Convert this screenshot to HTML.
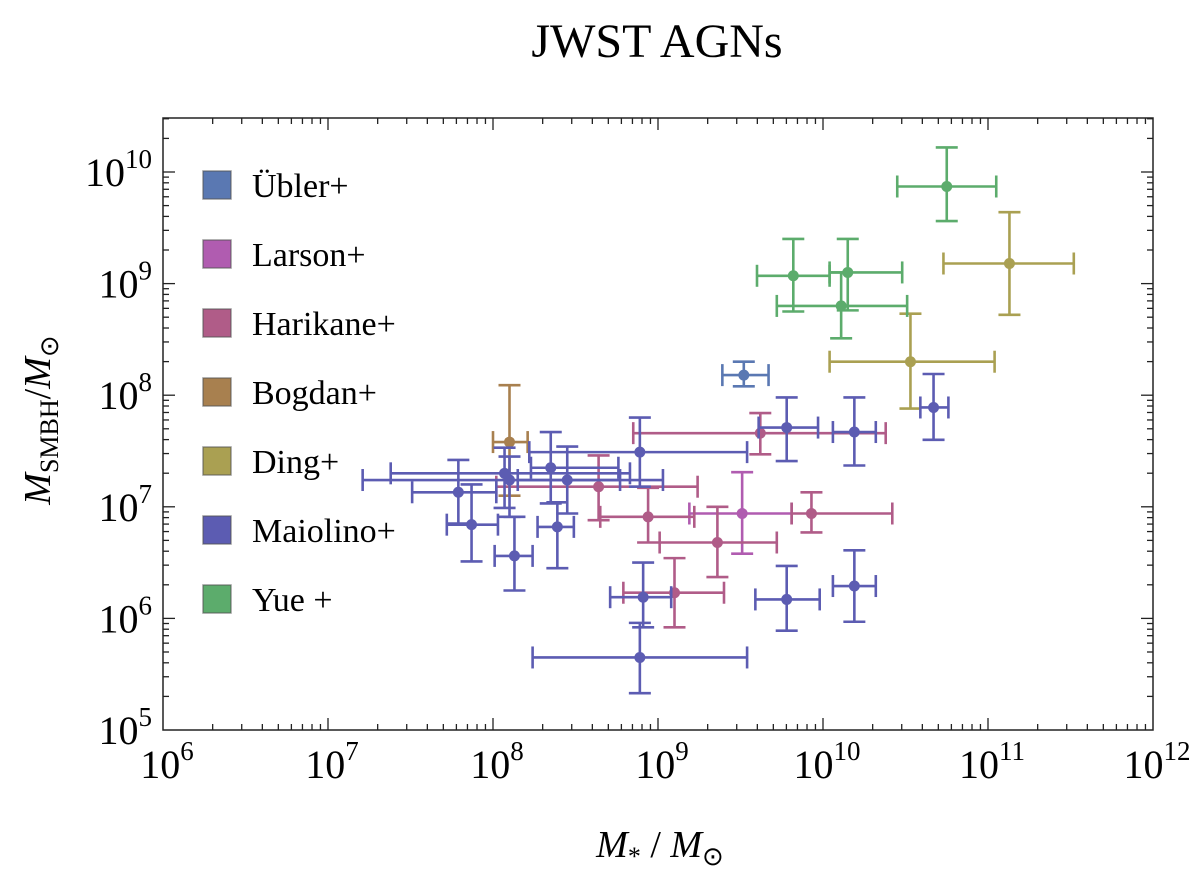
<!DOCTYPE html>
<html><head><meta charset="utf-8"><style>
body{margin:0;background:#fff;}
svg{display:block;font-family:"Liberation Serif",serif;}
</style></head><body>
<svg id="chart" width="1200" height="879">
<text x="657" y="57" font-size="48" text-anchor="middle">JWST AGNs</text>
<g id="axes"></g><g id="marks"></g><g id="legend"></g>
<text x="0" y="0" font-size="38" text-anchor="middle" transform="translate(50,420) rotate(-90)"><tspan font-style="italic">M</tspan><tspan font-size="26" dy="8">SMBH</tspan><tspan dy="-8">/</tspan><tspan font-style="italic">M</tspan><tspan font-size="26" dy="8">⊙</tspan></text>
<text x="660" y="857" font-size="38" text-anchor="middle"><tspan font-style="italic">M</tspan><tspan font-size="26" dy="8">*</tspan><tspan dy="-8"> / </tspan><tspan font-style="italic">M</tspan><tspan font-size="26" dy="8">⊙</tspan></text>
</svg>
<script>
// data in log10 units: [logMstar, lo, hi, logMBH, lo, hi]
const uebler=[[9.52,9.39,9.67,8.18,8.08,8.30]];
const larson=[[9.51,9.19,9.81,6.94,6.58,7.31]];
const harikane=[[9.62,8.85,10.38,7.66,7.47,7.84],[8.64,8.02,9.24,7.18,6.88,7.46],[8.94,8.65,9.22,6.91,6.68,7.17],[9.36,9.01,9.72,6.68,6.37,7.00],[9.93,9.81,10.42,6.94,6.77,7.13],[9.10,8.79,9.40,6.23,5.92,6.54]];
const bogdan=[[8.10,8.00,8.21,7.58,7.10,8.09]];
const ding=[[11.13,10.73,11.52,9.18,8.72,9.64],[10.53,10.04,11.04,8.30,7.88,8.73]];
const maiolino=[[9.78,9.61,9.97,7.71,7.41,7.98],[10.19,10.06,10.32,7.67,7.37,7.98],[8.89,8.22,9.54,7.49,7.18,7.80],[8.91,8.71,9.08,6.19,5.92,6.50],[8.89,8.24,9.54,5.65,5.33,5.96],[9.78,9.59,9.98,6.17,5.89,6.47],[10.19,10.06,10.32,6.29,5.97,6.61],[10.67,10.59,10.76,7.89,7.60,8.19],[8.35,8.23,8.76,7.35,7.03,7.67],[8.07,7.38,8.83,7.30,6.99,7.53],[8.10,7.21,9.03,7.24,6.91,7.45],[8.45,8.15,8.77,7.24,6.94,7.54],[7.79,7.51,8.02,7.13,6.85,7.42],[7.87,7.72,8.03,6.84,6.51,7.20],[8.13,8.01,8.24,6.56,6.25,6.91],[8.39,8.27,8.49,6.82,6.45,7.04]];
const yue=[[10.75,10.45,11.05,9.87,9.56,10.22],[9.82,9.60,10.04,9.07,8.75,9.40],[10.15,10.04,10.48,9.10,8.76,9.40],[10.11,9.72,10.51,8.80,8.51,9.10]];
const seriesNames=["Übler+","Larson+","Harikane+","Bogdan+","Ding+","Maiolino+","Yue +"];
const seriesData=[uebler,larson,harikane,bogdan,ding,maiolino,yue];
const seriesColors=["#5a78b2","#b05cb0","#b05c88","#a8804f","#aaa052","#5c5cb2","#5cac6c"];
const xTicks=[6,7,8,9,10,11,12];
const yTicks=[5,6,7,8,9,10];

const L=163,R=1153,T=118,B=730;
const X=v=>L+(v-6)*165;
const Y=v=>B-(v-5)*111.6;
const NS="http://www.w3.org/2000/svg";
function mk(tag,attrs,parent){const e=document.createElementNS(NS,tag);for(const k in attrs)e.setAttribute(k,attrs[k]);parent.appendChild(e);return e;}
const axes=document.getElementById('axes');
const fr=mk('rect',{x:L,y:T,width:R-L,height:B-T,fill:'none',stroke:'#222','stroke-width':1.5},axes);


const yMax=5+(B-T)/111.6;
for(let d=6;d<12;d++)for(let m=1;m<10;m++){const v=d+Math.log10(m);const x=X(v);const len=m==1?12:6;
 if(m==1&&d==6)continue;
 mk('line',{x1:x,y1:B,x2:x,y2:B-len,stroke:'#222','stroke-width':1.3},axes);
 mk('line',{x1:x,y1:T,x2:x,y2:T+len,stroke:'#222','stroke-width':1.3},axes);}
for(let d=5;d<11;d++)for(let m=1;m<10;m++){const v=d+Math.log10(m);if(v>yMax)continue;const y=Y(v);const len=m==1?12:6;
 if(m==1&&d==5)continue;
 mk('line',{x1:L,y1:y,x2:L+len,y2:y,stroke:'#222','stroke-width':1.3},axes);
 mk('line',{x1:R,y1:y,x2:R-len,y2:y,stroke:'#222','stroke-width':1.3},axes);}
xTicks.forEach(t=>{const g=mk('text',{x:X(t)+4,y:778,'font-size':40,'text-anchor':'middle'},axes);
 
 
 g.innerHTML='10<tspan font-size="27" dy="-18">'+t+'</tspan>';});
yTicks.forEach(t=>{const g=mk('text',{x:152,y:Y(t)+14,'font-size':40,'text-anchor':'end'},axes);
 
 
 g.innerHTML='10<tspan font-size="27" dy="-18">'+t+'</tspan>';});
const marks=document.getElementById('marks');
const cap=11;
seriesData.forEach((arr,si)=>{const c=seriesColors[si];
 arr.forEach(p=>{const g=mk('g',{stroke:c,'stroke-width':2.6,fill:c},marks);
  
  
  const x=X(p[0]),y=Y(p[3]),x1=X(p[1]),x2=X(p[2]),y1=Y(p[4]),y2=Y(p[5]);
  mk('line',{x1:x1,y1:y,x2:x2,y2:y},g);
  mk('line',{x1:x1,y1:y-cap,x2:x1,y2:y+cap},g);
  mk('line',{x1:x2,y1:y-cap,x2:x2,y2:y+cap},g);
  mk('line',{x1:x,y1:y1,x2:x,y2:y2},g);
  mk('line',{x1:x-cap,y1:y1,x2:x+cap,y2:y1},g);
  mk('line',{x1:x-cap,y1:y2,x2:x+cap,y2:y2},g);
  mk('circle',{cx:x,cy:y,r:5.5,stroke:'none'},g);});});
const leg=document.getElementById('legend');
seriesNames.forEach((n,i)=>{const y=185+i*69;
 const g=mk('g',{},leg);
 
 
 mk('rect',{x:203,y:y-14,width:28,height:28,fill:seriesColors[i],stroke:'#555','stroke-width':1.5,'stroke-opacity':0.6},g);
 const t=mk('text',{x:252,y:y+12,'font-size':34},g);t.textContent=n;});
</script>
</body></html>
